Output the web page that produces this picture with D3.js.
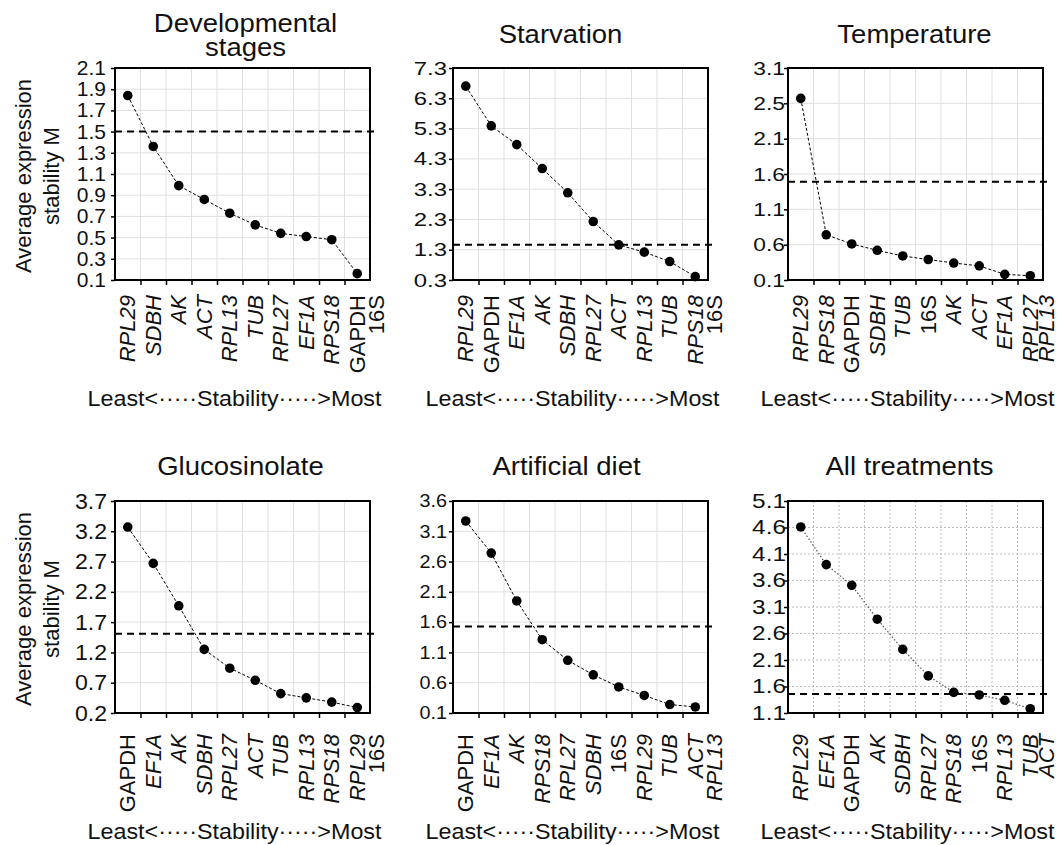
<!DOCTYPE html>
<html>
<head>
<meta charset="utf-8">
<script src="https://cdn.jsdelivr.net/npm/d3@7"></script>
<style>
  body { margin: 0; background: #fff; }
  text { font-family: "Liberation Sans", Arial, sans-serif; fill: #111; }
</style>
</head>
<body>
<div id="chart"></div>
<script>
// Width and height of the whole figure
var width = 1059, height = 845;

// geNorm M values, least -> most stable (last point = most stable pair)
var devGenes = ["RPL29", "SDBH", "AK", "ACT", "RPL13", "TUB", "RPL27", "EF1A", "RPS18", "GAPDH", "16S"];
var devM = [1.84, 1.36, 0.99, 0.86, 0.73, 0.62, 0.54, 0.51, 0.48, 0.16];
var devTicks = [0.1, 0.3, 0.5, 0.7, 0.9, 1.1, 1.3, 1.5, 1.7, 1.9, 2.1];

var starvGenes = ["RPL29", "GAPDH", "EF1A", "AK", "SDBH", "RPL27", "ACT", "RPL13", "TUB", "RPS18", "16S"];
var starvM = [6.70, 5.39, 4.77, 3.98, 3.18, 2.23, 1.46, 1.22, 0.91, 0.41];
var starvTicks = [0.3, 1.3, 2.3, 3.3, 4.3, 5.3, 6.3, 7.3];

var tempGenes = ["RPL29", "RPS18", "GAPDH", "SDBH", "TUB", "16S", "AK", "ACT", "EF1A", "RPL27", "RPL13"];
var tempM = [2.67, 0.74, 0.61, 0.52, 0.44, 0.39, 0.34, 0.30, 0.18, 0.16];
var tempTicks = [0.1, 0.6, 1.1, 1.6, 2.1, 2.6, 3.1];
var tempTickLabels = ["0.1", "0.6", "1.1", "1.6", "2.1", "2.5", "3.1"];

var glucGenes = ["GAPDH", "EF1A", "AK", "SDBH", "RPL27", "ACT", "TUB", "RPL13", "RPS18", "RPL29", "16S"];
var glucM = [3.27, 2.67, 1.97, 1.25, 0.94, 0.74, 0.52, 0.45, 0.38, 0.29];
var glucTicks = [0.2, 0.7, 1.2, 1.7, 2.2, 2.7, 3.2, 3.7];

var artGenes = ["GAPDH", "EF1A", "AK", "RPS18", "RPL27", "SDBH", "16S", "RPL29", "TUB", "ACT", "RPL13"];
var artM = [3.27, 2.74, 1.95, 1.31, 0.97, 0.73, 0.53, 0.39, 0.24, 0.20];
var artTicks = [0.1, 0.6, 1.1, 1.6, 2.1, 2.6, 3.1, 3.6];

var allGenes = ["RPL29", "EF1A", "GAPDH", "AK", "SDBH", "RPL27", "RPS18", "16S", "RPL13", "TUB", "ACT"];
var allM = [4.61, 3.90, 3.51, 2.87, 2.30, 1.80, 1.49, 1.44, 1.34, 1.18];
var allTicks = [1.1, 1.6, 2.1, 2.6, 3.1, 3.6, 4.1, 4.6, 5.1];

var titles = [["Developmental", "stages"], ["Starvation"], ["Temperature"],
              ["Glucosinolate"], ["Artificial diet"], ["All treatments"]];
var thresholds = [1.5, 1.46, 1.49, 1.51, 1.53, 1.46];
var uprightGenes = ["GAPDH", "16S"];

// Layout per panel (col, row, tick font, stretch, padding, title offset)
var colLeft = [115, 453, 788], rowTop = [68, 501];
var pw = 255, ph = 212;
var lastDx = [19, 19, 16];
var panels = [
  {col: 0, row: 0, genes: devGenes, m: devM, ticks: devTicks, tf: 20, tsx: 1.05, tpad: 9, tdx: 3},
  {col: 1, row: 0, genes: starvGenes, m: starvM, ticks: starvTicks, tf: 19, tsx: 1.26, tpad: 6, tdx: -20},
  {col: 2, row: 0, genes: tempGenes, m: tempM, ticks: tempTicks, labels: tempTickLabels, tf: 19, tsx: 1.2, tpad: 3, tdx: -1},
  {col: 0, row: 1, genes: glucGenes, m: glucM, ticks: glucTicks, tf: 22, tsx: 1.05, tpad: 8, tdx: -2},
  {col: 1, row: 1, genes: artGenes, m: artM, ticks: artTicks, tf: 18, tsx: 1.1, tpad: 6, tdx: -14},
  {col: 2, row: 1, genes: allGenes, m: allM, ticks: allTicks, tf: 20, tsx: 1.22, tpad: 2, tdx: -6, dotted: true}
];
var titleBase = [43, 475], geneGap = [15, 21], xlabBase = [406, 839];

var svg = d3.select("#chart").append("svg")
    .attr("width", width)
    .attr("height", height);

svg.append("rect").attr("width", width).attr("height", height).attr("fill", "#fff");

panels.forEach(function(p, k) {
  var left = colLeft[p.col], top = rowTop[p.row];
  var g = svg.append("g").attr("transform", "translate(" + left + "," + top + ")");

  var x = d3.scaleBand().domain(d3.range(p.m.length)).range([0, pw]);
  var y = d3.scaleLinear().domain(d3.extent(p.ticks)).range([ph, 0]);
  var cx = function(i) { return x(i) + x.bandwidth() / 2; };

  // grid
  var gridStroke = p.dotted ? "#bdbdbd" : "#e0e0e0";
  var gridDash = p.dotted ? "2,2" : null;
  g.append("g").selectAll("line")
    .data(p.ticks.slice(1, -1))
    .enter().append("line")
    .attr("x1", 0).attr("x2", pw)
    .attr("y1", function(d) { return y(d); }).attr("y2", function(d) { return y(d); })
    .attr("stroke", gridStroke).attr("stroke-dasharray", gridDash);
  g.append("g").selectAll("line")
    .data(d3.range(1, p.m.length))
    .enter().append("line")
    .attr("x1", function(i) { return x(i); }).attr("x2", function(i) { return x(i); })
    .attr("y1", 0).attr("y2", ph)
    .attr("stroke", gridStroke).attr("stroke-dasharray", gridDash);

  // threshold
  g.append("line")
    .attr("x1", 0).attr("x2", pw + 6)
    .attr("y1", y(thresholds[k])).attr("y2", y(thresholds[k]))
    .attr("stroke", "#000").attr("stroke-width", 2).attr("stroke-dasharray", "7,5");

  // y axis
  var yAxis = g.append("g")
    .call(d3.axisLeft(y).tickValues(p.ticks).tickSize(4)
      .tickFormat(function(d, i) { return p.labels ? p.labels[i] : d3.format(".1f")(d); }));
  yAxis.select(".domain").remove();
  yAxis.selectAll("line").attr("stroke", "#000").attr("stroke-width", 1.5);
  yAxis.selectAll("text")
    .attr("x", 0)
    .attr("transform", "translate(" + (-p.tpad) + ",0) scale(" + p.tsx + ",1)")
    .style("font-size", p.tf + "px").style("font-family", "'Liberation Sans', Arial, sans-serif")
    .attr("fill", "#111");

  // x axis ticks at band boundaries
  var xb = d3.scaleLinear().domain([0, p.m.length]).range([0, pw]);
  var xAxis = g.append("g").attr("transform", "translate(0," + ph + ")")
    .call(d3.axisBottom(xb).tickValues(d3.range(1, p.m.length)).tickSize(5).tickFormat(""));
  xAxis.select(".domain").remove();
  xAxis.selectAll("line").attr("stroke", "#000").attr("stroke-width", 1.5);

  // frame
  g.append("rect").attr("width", pw).attr("height", ph)
    .attr("fill", "none").attr("stroke", "#000").attr("stroke-width", 2);

  // line + points
  var line = d3.line().x(function(d, i) { return cx(i); }).y(function(d) { return y(d); });
  g.append("path").datum(p.m)
    .attr("d", line).attr("fill", "none")
    .attr("stroke", p.dotted ? "#555" : "#000")
    .attr("stroke-width", p.dotted ? 1.2 : 1)
    .attr("stroke-dasharray", p.dotted ? "1.5,2" : "3,2");
  g.selectAll("circle").data(p.m).enter().append("circle")
    .attr("cx", function(d, i) { return cx(i); })
    .attr("cy", function(d) { return y(d); })
    .attr("r", 4.8).attr("fill", "#000");

  // gene labels
  g.append("g").selectAll("text")
    .data(p.genes)
    .enter().append("text")
    .attr("transform", function(d, i) {
      var xx = i < p.m.length ? cx(i) : cx(p.m.length - 1) + lastDx[p.col];
      return "translate(" + xx + "," + (ph + geneGap[p.row]) + ") rotate(-90)";
    })
    .attr("dy", "0.35em")
    .attr("text-anchor", "end")
    .style("font-size", "22px")
    .style("font-style", function(d) { return uprightGenes.indexOf(d) >= 0 ? "normal" : "italic"; })
    .text(function(d) { return d; });

  // title
  var tt = svg.append("text")
    .attr("transform", "translate(" + (left + pw / 2 + p.tdx) + "," + (titles[k].length > 1 ? 32 : titleBase[p.row]) + ") scale(1.1,1)")
    .attr("text-anchor", "middle")
    .style("font-size", "25px");
  titles[k].forEach(function(t, j) {
    tt.append("tspan").attr("x", 0).attr("dy", j ? 24 : 0).text(t);
  });

  // x label
  svg.append("text")
    .attr("transform", "translate(" + (left + pw / 2 - 8) + "," + xlabBase[p.row] + ") scale(1.06,1)")
    .attr("text-anchor", "middle")
    .style("font-size", "22px")
    .text("Least<\u00B7\u00B7\u00B7\u00B7\u00B7Stability\u00B7\u00B7\u00B7\u00B7\u00B7>Most");

  // y title on left column
  if (p.col === 0) {
    var yt = svg.append("text")
      .attr("transform", "translate(31," + (top + ph / 2 + 2) + ") rotate(-90)")
      .attr("text-anchor", "middle")
      .style("font-size", "22px");
    yt.append("tspan").attr("x", 0).text("Average expression");
    yt.append("tspan").attr("x", 0).attr("dy", 28).text("stability M");
  }
});
</script>
</body>
</html>
